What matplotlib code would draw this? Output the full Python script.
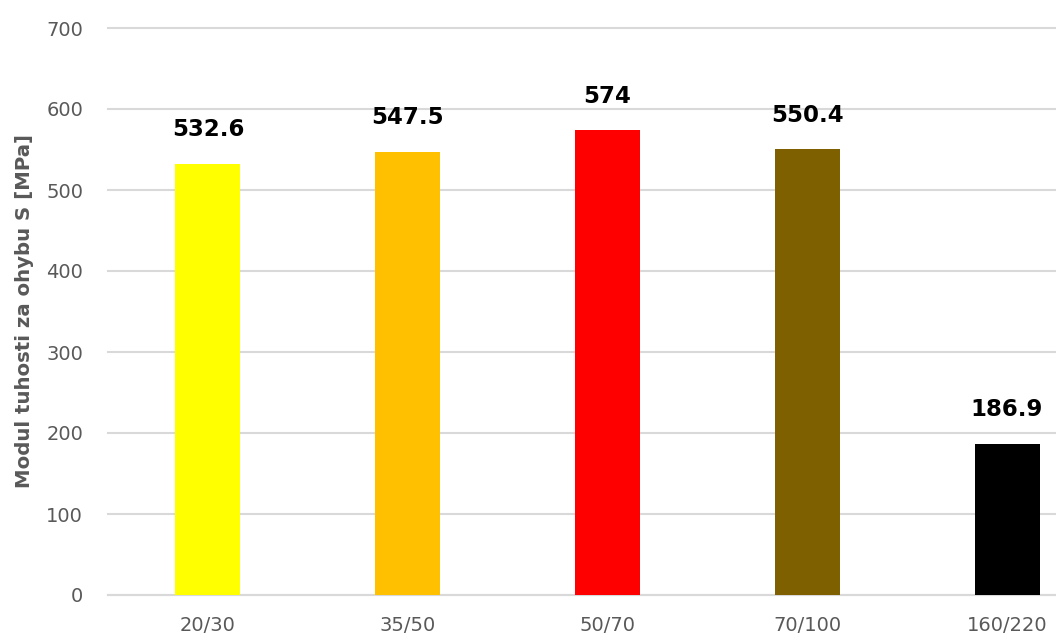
import matplotlib
matplotlib.use("Agg")
import matplotlib.pyplot as plt

categories = ["20/30", "35/50", "50/70", "70/100", "160/220"]
values = [532.6, 547.5, 574, 550.4, 186.9]
labels = ["532.6", "547.5", "574", "550.4", "186.9"]
colors = ["#FFFF00", "#FFC000", "#FF0000", "#7F6000", "#000000"]
yticks = [0, 100, 200, 300, 400, 500, 600, 700]

W, H = 1056, 638
fig = plt.figure(figsize=(W / 100, H / 100), dpi=100)
ax = fig.add_axes([108 / W, 43 / H, (W - 108) / W, (595 - 28) / H])

x = list(range(len(categories)))
bars = ax.bar(x, values, width=0.325, color=colors, zorder=3)
for xi, v, lab in zip(x, values, labels):
    ax.annotate(lab, (xi, v), xytext=(0, 16), textcoords="offset points",
                ha="center", va="bottom", fontsize=16.5, fontweight="bold", color="black")

ax.set_xlim(-0.5, 4.245)
ax.set_ylim(0, 700)
ax.set_yticks(yticks)
ax.set_xticks(x)
ax.set_xticklabels(categories)
ax.grid(axis="y", color="#D9D9D9", linewidth=1.5, zorder=0)
for gl in ax.get_ygridlines():
    gl.set_clip_on(False)
for s in ["top", "right", "left"]:
    ax.spines[s].set_visible(False)
ax.spines["bottom"].set_color("#D9D9D9")
ax.spines["bottom"].set_linewidth(1.5)
ax.tick_params(axis="both", length=0, labelsize=14, colors="#595959")
ax.tick_params(axis="y", pad=18)
ax.tick_params(axis="x", pad=15)

ax.set_ylabel("Modul tuhosti za ohybu S [MPa]", fontsize=14.2, fontweight="bold",
              color="#595959")
ax.yaxis.set_label_coords(-(108 - 34) / (W - 108), 0.5)

fig.savefig("out.png", dpi=100)
